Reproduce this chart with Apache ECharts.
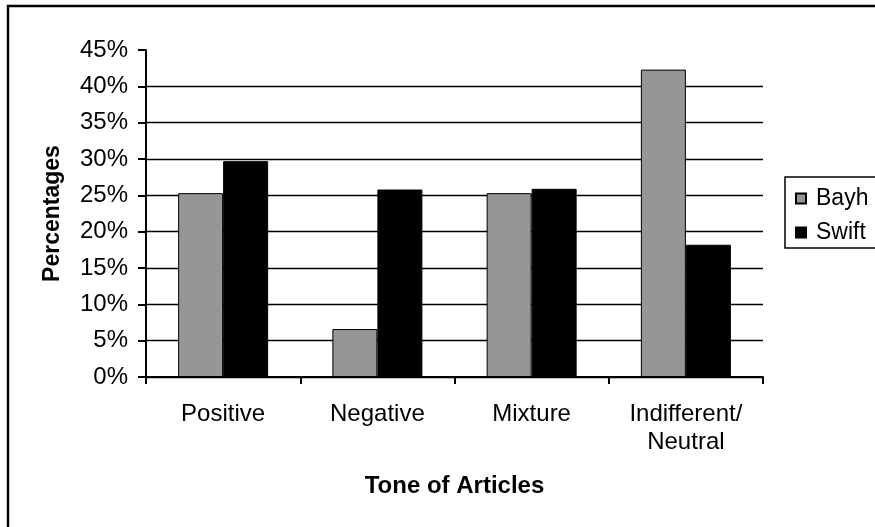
<!DOCTYPE html>
<html>
<head>
<meta charset="utf-8">
<script src="https://cdn.jsdelivr.net/npm/echarts@6/dist/echarts.min.js"></script>
<style>
  html, body { margin: 0; padding: 0; background: #fff; }
  #chart { width: 875px; height: 527px; }
</style>
</head>
<body>
<div id="chart"></div>
<script>
// Tone of newspaper articles, share per candidate
const categories = ['Positive', 'Negative', 'Mixture', 'Indifferent/\nNeutral'];
const bayhValues = [25.3, 6.6, 25.3, 42.3];
const swiftValues = [29.7, 25.8, 25.9, 18.2];
const seriesNames = ['Bayh', 'Swift'];

const FONT = '"Liberation Sans", Arial, sans-serif';

const chart = echarts.init(document.getElementById('chart'), null, { renderer: 'canvas' });

chart.setOption({
  backgroundColor: '#ffffff',
  animation: false,
  graphic: [{
    type: 'rect',
    shape: { x: 8, y: 6, width: 900, height: 560 },
    style: { fill: 'none', stroke: '#000', lineWidth: 2.4 },
    silent: true
  }],
  grid: { left: 146, right: 112, top: 50, bottom: 150, containLabel: false },
  legend: {
    left: 785,
    top: 177,
    orient: 'vertical',
    icon: 'rect',
    itemWidth: 10,
    itemHeight: 10,
    itemGap: 11,
    padding: [10, 30, 4, 10],
    borderColor: '#000',
    borderWidth: 1.5,
    textStyle: { fontFamily: FONT, fontSize: 23, color: '#000', padding: [0, 0, 0, 5] },
    data: seriesNames
  },
  xAxis: {
    type: 'category',
    data: categories,
    axisLine: { lineStyle: { color: '#000', width: 2 } },
    axisTick: { show: true, length: 7, lineStyle: { color: '#000', width: 2 } },
    axisLabel: { fontFamily: FONT, fontSize: 24, color: '#000', margin: 23, lineHeight: 28, interval: 0 },
    name: 'Tone of Articles',
    nameLocation: 'middle',
    nameGap: 97,
    nameTextStyle: { fontFamily: FONT, fontSize: 24, fontWeight: 'bold', color: '#000' }
  },
  yAxis: {
    type: 'value',
    min: 0,
    max: 45,
    interval: 5,
    axisLine: { show: true, lineStyle: { color: '#000', width: 2 } },
    axisTick: { show: true, length: 8, lineStyle: { color: '#000', width: 2 } },
    axisLabel: { fontFamily: FONT, fontSize: 24, color: '#000', margin: 18, formatter: '{value}%' },
    splitLine: { show: true, showMaxLine: false, lineStyle: { color: '#000', width: 1.3 } },
    name: 'Percentages',
    nameLocation: 'middle',
    nameGap: 82,
    nameTextStyle: { fontFamily: FONT, fontSize: 23, fontWeight: 'bold', color: '#000' }
  },
  series: [
    {
      name: seriesNames[0],
      type: 'bar',
      data: bayhValues,
      barWidth: 45,
      barGap: '0%',
      itemStyle: { color: '#969696', borderColor: '#000', borderWidth: 1 }
    },
    {
      name: seriesNames[1],
      type: 'bar',
      data: swiftValues,
      barWidth: 45,
      barGap: '0%',
      itemStyle: { color: '#000000', borderColor: '#000', borderWidth: 1 }
    }
  ]
});
</script>
</body>
</html>
